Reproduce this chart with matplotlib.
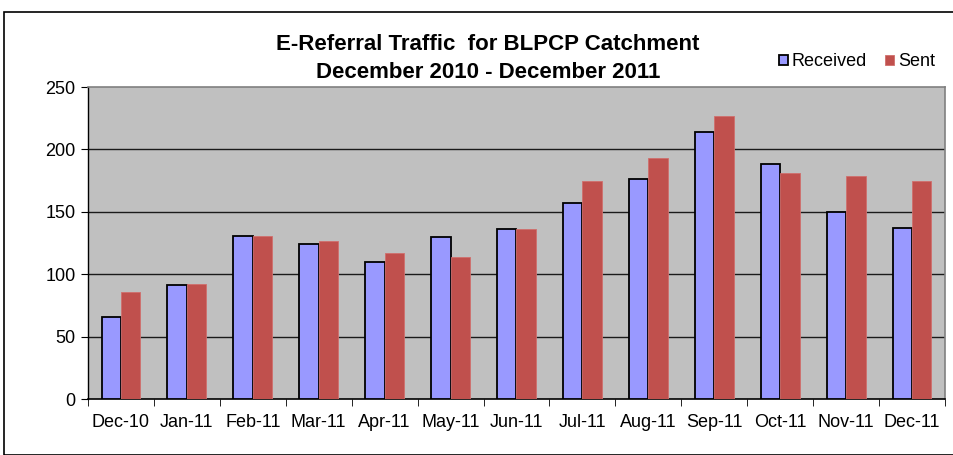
import matplotlib
matplotlib.use("Agg")
import matplotlib.pyplot as plt
import numpy as np
from matplotlib.patches import Rectangle

months = ["Dec-10", "Jan-11", "Feb-11", "Mar-11", "Apr-11", "May-11", "Jun-11",
          "Jul-11", "Aug-11", "Sep-11", "Oct-11", "Nov-11", "Dec-11"]
received = [66, 91, 131, 124, 110, 130, 136, 157, 176, 214, 188, 150, 137]
sent = [86, 92, 131, 127, 117, 114, 136, 175, 193, 227, 181, 179, 175]
yticks = [0, 50, 100, 150, 200, 250]

plt.rcParams['font.family'] = ['Liberation Sans', 'DejaVu Sans']

fig = plt.figure(figsize=(9.54, 4.55), dpi=100)
ax = fig.add_axes([88/954, 1-399/455, (945-88)/954, (399-87)/455])
ax.set_facecolor('#C0C0C0')

x = np.arange(len(months))
w = 0.295
ax.bar(x - w/2, received, w, color='#9999FF', edgecolor='black', linewidth=1.3,
       label='Received', zorder=3)
ax.bar(x + w/2, sent, w, color='#C0504D', edgecolor='#D06F6C', linewidth=0.6,
       label='Sent', zorder=3)

ax.set_xlim(-0.5, len(months) - 0.5)
ax.set_ylim(0, 250)
ax.set_yticks(yticks)
ax.set_yticklabels([str(v) for v in yticks], fontsize=13)
ax.set_xticks(x)
ax.set_xticklabels(months, fontsize=13)
ax.tick_params(axis='x', length=0, pad=11)
ax.set_xticks(np.arange(-0.5, len(months)), minor=True)
ax.tick_params(axis='x', which='minor', length=5, direction='out', color='black')
ax.tick_params(axis='y', length=5, direction='out', color='black', pad=4)
for v in yticks[1:-1]:
    ax.axhline(v, color='#1a1a1a', linewidth=1.0, zorder=1)

for s in ['top', 'right']:
    ax.spines[s].set_color('#808080')
    ax.spines[s].set_linewidth(1.2)
ax.spines['left'].set_color('black')
ax.spines['bottom'].set_color('black')
ax.spines['left'].set_linewidth(1.0)
ax.spines['bottom'].set_linewidth(1.2)

fig.text(488/954, 1-45/455, "E-Referral Traffic  for BLPCP Catchment",
         ha='center', va='center', fontsize=16, fontweight='bold')
fig.text(488/954, 1-73/455, "December 2010 - December 2011",
         ha='center', va='center', fontsize=16, fontweight='bold')

leg = fig.legend(loc='center', bbox_to_anchor=(857/954, 1-62/455), ncol=2,
                 frameon=False, fontsize=13, handlelength=0.5, handleheight=0.5,
                 handletextpad=0.2, columnspacing=1.0, borderaxespad=0)

fig.patches.append(Rectangle((4/954, 0), 1.0, 1-12/455, transform=fig.transFigure,
                             fill=False, edgecolor='black', linewidth=1.2))

fig.savefig("out.png", dpi=100)
